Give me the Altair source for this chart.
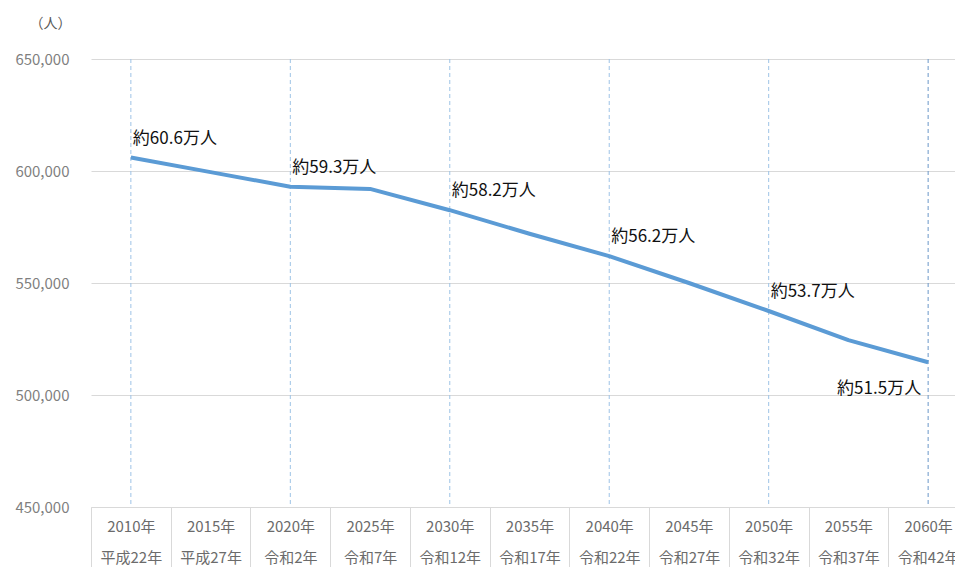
import altair as alt
import pandas as pd

years = ["2010年", "2015年", "2020年", "2025年", "2030年", "2035年",
         "2040年", "2045年", "2050年", "2055年", "2060年"]
eras = ["平成22年", "平成27年", "令和2年", "令和7年", "令和12年", "令和17年",
        "令和22年", "令和27年", "令和32年", "令和37年", "令和42年"]
population = [606000, 599500, 593000, 592000, 582500, 572000,
              562000, 550000, 537500, 524500, 514600]
labels = ["約60.6万人", "", "約59.3万人", "", "約58.2万人", "",
          "約56.2万人", "", "約53.7万人", "", "約51.5万人"]
y_ticks = [450000, 500000, 550000, 600000, 650000]

cats = [f"{y}|{e}" for y, e in zip(years, eras)]
df = pd.DataFrame({"cat": cats, "value": population, "label": labels})
last_cat = cats[-1]

FONT = "Noto Sans CJK JP"

x_enc = alt.X(
    "cat:N", sort=cats, title=None,
    scale=alt.Scale(domain=cats, range=[0, 877], paddingInner=0, paddingOuter=0),
    axis=alt.Axis(
        labelExpr="split(datum.label, '|')", labelAngle=0,
        tickBand="extent", tickSize=70, tickColor="#d9d9d9", tickWidth=1,
        domainColor="#d9d9d9", domainWidth=1,
        labelPadding=-58, labelBaseline="top", labelLineHeight=31,
        labelFontSize=15, labelColor="#6b6b6b", labelFont=FONT, grid=False,
    ),
)
y_enc = alt.Y(
    "value:Q",
    scale=alt.Scale(domain=[450000, 650000], nice=False, zero=False),
    axis=alt.Axis(
        values=y_ticks, format=",.0f", ticks=False, domain=False,
        gridColor="#d9d9d9", gridWidth=1,
        labelFontSize=15, labelColor="#7f7f7f", labelFont=FONT, labelPadding=22,
        title="（人）", titleAngle=0, titleX=-41, titleY=-36,
        titleAlign="center", titleBaseline="middle", titleFontSize=14,
        titleFontWeight="normal", titleColor="#595959", titleFont=FONT,
    ),
)

base = alt.Chart(df)

rules = base.transform_filter("datum.label != ''").mark_rule(
    strokeDash=[4, 3], strokeWidth=1
).encode(
    x=x_enc,
    color=alt.condition(f"datum.cat == '{last_cat}'",
                        alt.value("#6a96c8"), alt.value("#9dc3e6")),
)

line = base.mark_line(color="#5b9bd5", strokeWidth=4, strokeJoin="round").encode(
    x=x_enc, y=y_enc
)

text_main = base.transform_filter(
    f"datum.label != '' && datum.cat != '{last_cat}'"
).mark_text(
    align="left", baseline="middle", dx=2, dy=-19, fontSize=17,
    color="#111111", font=FONT
).encode(x=x_enc, y=y_enc, text="label:N")

text_last = base.transform_filter(f"datum.cat == '{last_cat}'").mark_text(
    align="right", baseline="middle", dx=-7, dy=27, fontSize=17,
    color="#111111", font=FONT
).encode(x=x_enc, y=y_enc, text="label:N")

chart = alt.layer(rules, line, text_main, text_last).properties(
    width=864, height=448,
    autosize=alt.AutoSizeParams(type="none"),
    padding={"left": 91, "top": 59, "right": 0, "bottom": 60},
    background="white",
).configure_view(stroke=None)

chart.save("out.html", embed_options={"renderer": "svg", "actions": False})
